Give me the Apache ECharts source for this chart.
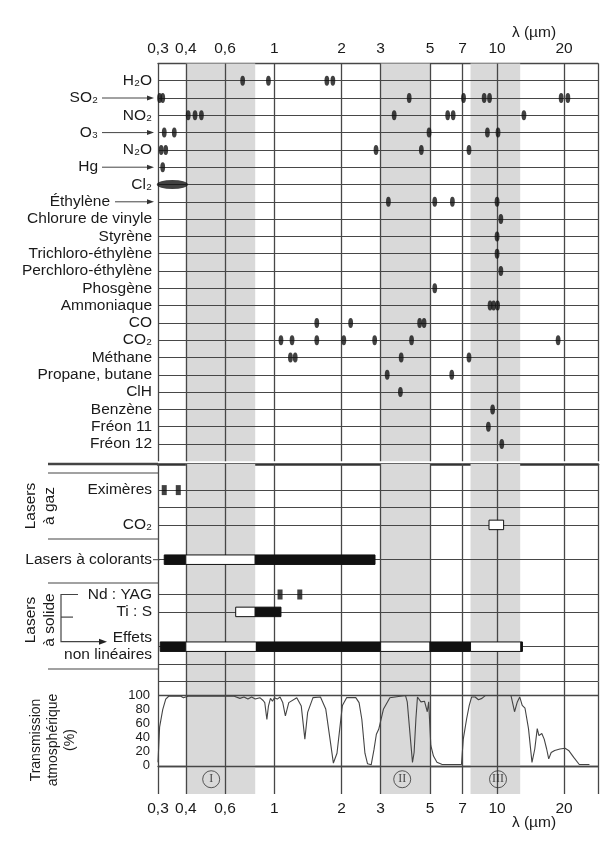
<!DOCTYPE html>
<html><head><meta charset="utf-8">
<script src="https://cdn.jsdelivr.net/npm/echarts@6/dist/echarts.min.js"></script>
<style>html,body{margin:0;padding:0;background:#fff}#c{width:602px;height:845px}</style>
</head><body><div id="c"></div>
<script>
// ---------- data ----------
const tickValues = [0.3, 0.4, 0.6, 1, 2, 3, 5, 7, 10, 20];
const bands = [[0.4, 0.82], [3, 5], [7.6, 12.7]];
const bandNames = ['I', 'II', 'III'];
const bandLabelLambda = [0.52, 3.75, 10.1];

const gasRows = ['H₂O','SO₂','NO₂','O₃','N₂O','Hg','Cl₂','Éthylène','Chlorure de vinyle','Styrène',
  'Trichloro-éthylène','Perchloro-éthylène','Phosgène','Ammoniaque','CO','CO₂','Méthane',
  'Propane, butane','ClH','Benzène','Fréon 11','Fréon 12'];

const h2o = [0.72, 0.94, 1.72, 1.83];
const so2 = [0.305, 0.315, 4.03, 7.07, 8.75, 9.25, 19.4, 20.8];
const no2 = [0.41, 0.44, 0.47, 3.45, 6.0, 6.35, 13.2];
const o3 = [0.32, 0.355, 4.95, 9.05, 10.1];
const n2o = [0.31, 0.325, 2.86, 4.57, 7.48];
const hg = [0.315];
const cl2 = [0.348];
const ethylene = [3.25, 5.25, 6.3, 10.0];
const vinylChloride = [10.4];
const styrene = [10.0];
const trichloroethylene = [10.0];
const perchloroethylene = [10.4];
const phosgene = [5.25];
const ammonia = [9.3, 9.65, 10.05];
const co = [1.55, 2.2, 4.49, 4.7];
const co2 = [1.07, 1.2, 1.55, 2.05, 2.82, 4.13, 18.8];
const methane = [1.18, 1.24, 3.71, 7.48];
const propaneButane = [3.21, 6.26];
const hcl = [3.68];
const benzene = [9.55];
const freon11 = [9.14];
const freon12 = [10.5];

const gasLines = [h2o, so2, no2, o3, n2o, hg, [], ethylene, vinylChloride, styrene,
  trichloroethylene, perchloroethylene, phosgene, ammonia, co, co2, methane,
  propaneButane, hcl, benzene, freon11, freon12];

// lasers
const laserRows = ['Eximères', 'CO₂', 'Lasers à colorants', 'Nd : YAG', 'Ti : S', 'Effets\nnon linéaires'];
const eximerLines = [0.32, 0.37];
const ndYagLines = [1.06, 1.3];
// [start, end, filled(1)/open(0)]
const co2Laser = [[9.2, 10.7, 0]];
const dyeLaser = [[0.32, 0.40, 1], [0.40, 0.82, 0], [0.82, 2.83, 1]];
const tiSapphire = [[0.67, 0.82, 0], [0.82, 1.07, 1]];
const nonLinear = [[0.307, 0.40, 1], [0.40, 0.83, 0], [0.83, 3.0, 1], [3.0, 5.0, 0], [5.0, 7.6, 1], [7.6, 12.8, 0], [12.8, 13.0, 1]];

// atmospheric transmission (%)
const transLambda = [0.3,0.305,0.315,0.325,0.335,0.38,0.39,0.41,0.66,0.70,0.73,0.76,0.79,0.82,0.86,0.89,0.905,0.925,0.94,0.96,0.98,1.0,1.03,1.06,1.09,1.12,1.16,1.26,1.32,1.37,1.41,1.49,1.61,1.70,1.77,1.84,1.91,2.02,2.11,2.32,2.40,2.47,2.55,2.62,2.72,2.80,2.87,2.94,3.09,3.3,3.88,3.95,4.07,4.17,4.24,4.32,4.39,4.55,4.72,4.86,4.93,5.04,5.18,5.37,5.67,6.92,7.05,7.3,7.5,7.69,7.97,8.25,8.55,8.85,11.55,11.76,11.98,12.33,12.64,12.97,13.35,13.84,14.35,14.77,15.15,15.42,15.88,16.28,16.7,17.06,17.5,18.14,19.15,20.2,20.96,22.1,23.4,26.0];
const transValues = [5,55,80,95,99,99,97,99,99,96,98,95,98,95,97,93,90,66,85,96,92,97,95,98,90,71,90,97,85,38,76,97,98,81,42,4,18,86,97,97,90,66,18,3,1.5,23,45,52,81,97,100,91,43,5,19,67,98,91,92,77,91,29,14,5,2,2,38,67,86,98,98,94,96,100,100,98,77,91,98,86,82,53,5,24,53,43,46,38,24,10,19,22,24,25,22,12,2,2];
const transTicks = [0, 20, 40, 60, 80, 100];

// ---------- layout / style ----------
const FONT = '"Liberation Sans", Arial, Helvetica, sans-serif';
const TXT = '#1a1a1a';
const LINE = '#474747';
const BAND = '#d9d9d9';
const X_MIN = 0.3, X_MAX = 28.4;
const FS = 15.5;

// laser slot layout (half-row slots)
const laserSlots = 26;
const laserSlotOf = { 'Eximères': 3, 'CO₂': 7, 'Lasers à colorants': 11, 'Nd : YAG': 15, 'Ti : S': 17, 'Effets\nnon linéaires': 21 };
const laserLineSlots = [3, 5, 7, 11, 15, 17, 21, 23, 25];
const laserAxisData = Array.from({ length: laserSlots }, (_, i) => 's' + i);
const slotLabel = {};
laserRows.forEach(r => { slotLabel['s' + laserSlotOf[r]] = r; });

const fmt = v => String(v).replace('.', ',');

function xAxisFor(gridIndex, extra) {
  return Object.assign({
    type: 'log', logBase: 10, gridIndex, min: X_MIN, max: X_MAX,
    axisLine: { show: false }, axisTick: { show: false }, axisLabel: { show: false }, splitLine: { show: false }
  }, extra || {});
}

function helperSeries(xi, yi, labelPos, extraLines) {
  const lineData = tickValues.map(v => ({ xAxis: v, label: { show: !!labelPos } }));
  lineData.push({ xAxis: X_MAX, label: { show: false } });
  (extraLines || []).forEach(v => lineData.push({ yAxis: v, label: { show: false } }));
  return {
    type: 'scatter', xAxisIndex: xi, yAxisIndex: yi, data: [], silent: true,
    markArea: { silent: true, z: 1, itemStyle: { color: BAND }, label: { show: false },
      data: bands.map(b => [{ xAxis: b[0] }, { xAxis: b[1] }]) },
    markLine: { silent: true, z: 3, symbol: ['none', 'none'], animation: false,
      lineStyle: { color: LINE, width: 1.3, type: 'solid' },
      label: { show: !!labelPos, position: labelPos || 'start', distance: 7,
        formatter: p => fmt(p.value), color: TXT, fontSize: FS, fontFamily: FONT },
      emphasis: { disabled: true },
      data: lineData }
  };
}

function renderSeg(params, api) {
  const a = api.coord([api.value(0), api.value(2)]);
  const b = api.coord([api.value(1), api.value(2)]);
  const h = 9.5;
  const full = api.value(3) === 1;
  return { type: 'rect', shape: { x: a[0], y: a[1] - h / 2, width: b[0] - a[0], height: h },
    style: { fill: full ? '#111' : '#fff', stroke: '#111', lineWidth: 1 } };
}
function segData(arr, row) { return arr.map(s => [s[0], s[1], laserSlotOf[row], s[2]]); }

const arrowRows = { 'SO₂': 'a', 'O₃': 'a', 'Hg': 'a', 'Éthylène': 'e' };

const chart = echarts.init(document.getElementById('c'), null, { renderer: 'canvas', width: 602, height: 845 });

const option = {
  animation: false,
  backgroundColor: '#fff',
  grid: [
    { left: 158, right: 4, top: 63.4, height: 397.9 },
    { left: 158, right: 4, top: 464, height: 217.5 },
    { left: 158, right: 4, top: 681.5, height: 112.5 }
  ],
  xAxis: [
    xAxisFor(0, { position: 'top', axisLine: { show: true, lineStyle: { color: LINE, width: 1.3 } } }),
    xAxisFor(1, { position: 'top', axisLine: { show: true, lineStyle: { color: '#333', width: 2.6 } } }),
    xAxisFor(2, { position: 'bottom', axisLine: { show: true, lineStyle: { color: LINE, width: 1.3 } } })
  ],
  yAxis: [
    { type: 'category', gridIndex: 0, inverse: true, boundaryGap: false, z: 2,
      data: [''].concat(gasRows, [' ']),
      axisLine: { show: false }, axisTick: { show: false },
      splitLine: { show: true, interval: (i) => i > 0 && i <= gasRows.length, lineStyle: { color: LINE, width: 1 } },
      axisLabel: { interval: 0, margin: 6, color: TXT, fontSize: FS, fontFamily: FONT,
        formatter: v => arrowRows[v] ? '{' + arrowRows[v] + '|' + v + '}' : v,
        rich: {
          a: { padding: [0, 54, 0, 0], color: TXT, fontSize: FS, fontFamily: FONT },
          e: { padding: [0, 42, 0, 0], color: TXT, fontSize: FS, fontFamily: FONT }
        } } },
    { type: 'category', gridIndex: 1, inverse: true, boundaryGap: false, z: 2,
      data: laserAxisData,
      axisLine: { show: false }, axisTick: { show: false },
      splitLine: { show: true, interval: (i) => laserLineSlots.includes(i), lineStyle: { color: LINE, width: 1 } },
      axisLabel: { interval: 0, margin: 6, color: TXT, fontSize: FS, fontFamily: FONT, lineHeight: 17,
        formatter: v => slotLabel[v] || '' } },
    { type: 'value', gridIndex: 2, min: -40, max: 120, interval: 20, z: 2,
      axisLine: { show: false }, axisTick: { show: false }, splitLine: { show: false },
      axisLabel: { margin: 8, color: TXT, fontSize: 13, fontFamily: FONT,
        formatter: v => transTicks.includes(v) ? String(v) : '' } }
  ],
  series: [
    helperSeries(0, 0, 'start'),
    helperSeries(1, 1, null),
    helperSeries(2, 2, 'start', [0, 100]),
    { type: 'scatter', xAxisIndex: 0, yAxisIndex: 0, z: 5, silent: true,
      symbol: 'circle', symbolSize: [4.8, 10], itemStyle: { color: '#111' },
      data: gasRows.flatMap((name, i) => gasLines[i].map(v => [v, name])) },
    { type: 'scatter', xAxisIndex: 0, yAxisIndex: 0, z: 5, silent: true,
      symbol: 'circle', symbolSize: [31, 9], itemStyle: { color: '#111' },
      data: cl2.map(v => [v, 'Cl₂']) },
    { type: 'scatter', xAxisIndex: 1, yAxisIndex: 1, z: 5, silent: true,
      symbol: 'rect', symbolSize: [5, 10], itemStyle: { color: '#111' },
      data: eximerLines.map(v => [v, laserSlotOf['Eximères']]).concat(ndYagLines.map(v => [v, laserSlotOf['Nd : YAG']])) },
    { type: 'custom', xAxisIndex: 1, yAxisIndex: 1, z: 5, silent: true, renderItem: renderSeg,
      encode: { x: [0, 1], y: 2 },
      data: [].concat(segData(co2Laser, 'CO₂'), segData(dyeLaser, 'Lasers à colorants'),
        segData(tiSapphire, 'Ti : S'), segData(nonLinear, 'Effets\nnon linéaires')) },
    { type: 'line', xAxisIndex: 2, yAxisIndex: 2, z: 4, silent: true, showSymbol: false,
      lineStyle: { color: '#444', width: 1.1 }, data: transLambda.map((l, i) => [l, transValues[i]]) },
    { type: 'scatter', xAxisIndex: 2, yAxisIndex: 2, z: 5, silent: true,
      symbol: 'circle', symbolSize: 17, itemStyle: { color: 'rgba(0,0,0,0)', borderColor: '#333', borderWidth: 1 },
      label: { show: true, position: 'inside', formatter: p => bandNames[p.dataIndex],
        fontFamily: '"Liberation Serif", "Times New Roman", serif', fontSize: 12, color: '#222' },
      data: bandLabelLambda.map(l => [l, -19]) }
  ]
};
chart.setOption(option);

// ---------- annotations ----------
const g = [];
function hline(x1, x2, y, w) { g.push({ type: 'line', silent: true, z: 10, shape: { x1, y1: y, x2, y2: y }, style: { stroke: '#444', lineWidth: w || 1.2 } }); }
function arrow(x1, x2, y) {
  hline(x1, x2 - 4, y, 1);
  g.push({ type: 'polygon', silent: true, z: 10, shape: { points: [[x2, y], [x2 - 7, y - 2.5], [x2 - 7, y + 2.5]] }, style: { fill: '#333' } });
}
function text(x, y, str, opts) {
  g.push(Object.assign({ type: 'text', silent: true, z: 10, x, y,
    style: Object.assign({ text: str, fill: TXT, fontSize: FS, fontFamily: FONT, align: 'center', verticalAlign: 'middle' }, (opts && opts.style) || {}) },
    (opts && opts.el) || {}));
}
const rowY = name => chart.convertToPixel({ yAxisIndex: 0 }, name);
arrow(102, 154, rowY('SO₂'));
arrow(102, 154, rowY('O₃'));
arrow(102, 154, rowY('Hg'));
arrow(115, 154, rowY('Éthylène'));

// section separators in label column
hline(48, 158, 464, 2.6);
hline(48, 158, 473, 1.2);
hline(48, 158, 539, 1.2);
hline(48, 158, 583, 1.2);
hline(48, 158, 669, 1.2);
// connector for dye lasers
hline(153, 160, chart.convertToPixel({ yAxisIndex: 1 }, 's' + laserSlotOf['Lasers à colorants']), 1);

// solid-state laser bracket
const yNd = chart.convertToPixel({ yAxisIndex: 1 }, 's' + laserSlotOf['Nd : YAG']);
const yEf = chart.convertToPixel({ yAxisIndex: 1 }, 's' + laserSlotOf['Effets\nnon linéaires']) - 5;
g.push({ type: 'polyline', silent: true, z: 10, shape: { points: [[78, yNd], [61, yNd], [61, yEf], [100, yEf]] }, style: { stroke: '#444', lineWidth: 1.2, fill: null } });
hline(61, 73, (yNd + yEf) / 2 - 1, 1.2);
g.push({ type: 'polygon', silent: true, z: 10, shape: { points: [[107, yEf], [99, yEf - 3], [99, yEf + 3]] }, style: { fill: '#222' } });

// rotated section titles
text(40, 506, 'Lasers\nà gaz', { style: { lineHeight: 19 }, el: { rotation: Math.PI / 2 } });
text(40, 620, 'Lasers\nà solide', { style: { lineHeight: 19 }, el: { rotation: Math.PI / 2 } });
text(53, 740, 'Transmission\natmosphérique\n(%)', { style: { lineHeight: 17, fontSize: 14 }, el: { rotation: Math.PI / 2 } });

// axis titles
text(534, 33, 'λ (µm)');
text(534, 823, 'λ (µm)');

chart.setOption({ graphic: { elements: g } });
</script>
</body></html>
